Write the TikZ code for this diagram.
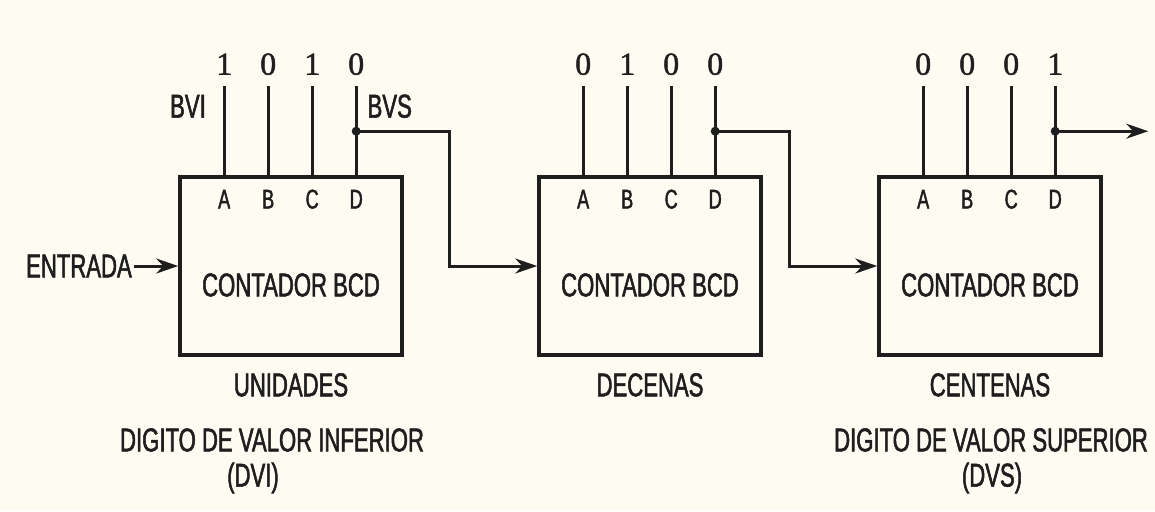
\documentclass[tikz,border=0pt]{standalone}
\usepackage{fontspec}
\setmainfont{Liberation Sans}[FakeStretch=0.67, FakeBold=1.6]
\newfontfamily\digitfont{Liberation Serif}[FakeBold=1.4]
\usepackage{xcolor}
\usetikzlibrary{arrows.meta,positioning,calc}
\definecolor{paper}{RGB}{253,251,242}
\definecolor{ink}{RGB}{30,30,30}

\begin{document}
\begin{tikzpicture}[x=0.5pt, y=-0.5pt,
  cnt/.style={draw=ink, line width=1.8pt, minimum width=111pt, minimum height=89pt, inner sep=0pt},
  lbl/.style={text=ink, font=\fontsize{16.5}{17}\selectfont, inner sep=1pt},
  pinlbl/.style={text=ink, font=\fontsize{13.5}{14}\selectfont, inner sep=1pt},
  bit/.style={text=ink, font=\digitfont\fontsize{16}{17}\selectfont, inner sep=1pt},
  wire/.style={draw=ink, line width=1.5pt},
  arr/.style={wire, -{Stealth[length=11pt,width=7.5pt]}},
  dot/.style={circle, fill=ink, inner sep=0pt, minimum size=4.5pt}
]
  \fill[paper] (0,0) rectangle (1155,511);
  \useasboundingbox (0,0) rectangle (1155,511);

  % three BCD counters with their A..D outputs
  \foreach \n/\x/\ba/\bb/\bc/\bd/\lab in {u/291/1/0/1/0/UNIDADES, d/650/0/1/0/0/DECENAS, c/990/0/0/0/1/CENTENAS} {
    \node[cnt] (\n) at (\x,266) {};
    \node[lbl] (\n-txt) at ($(\n.center)+(0,19)$) {CONTADOR BCD};
    \node[lbl, below=7pt of \n] (\n-name) {\lab};
    \foreach \p/\b [count=\i] in {A/\ba, B/\bb, C/\bc, D/\bd} {
      \coordinate (\n-\p) at ($(\n.north west)+(2+44*\i,0)$);
      \coordinate (\n-\p-top) at ($(\n-\p)+(0,-89)$);
      \draw[wire] (\n-\p) -- (\n-\p-top);
      \node[pinlbl] (\n-\p-in) at ($(\n-\p)+(0,24)$) {\p};
      \node[bit] (\n-\p-bit) at ($(\n-\p)+(0,-111)$) {\b};
    }
    \node[dot] (\n-dot) at ($(\n-D)+(0,-44)$) {};
  }

  % carry chain
  \draw[arr] (u-dot.center) -- ++(93,0) |- (d.west);
  \draw[arr] (d-dot.center) -- ++(74,0) |- (c.west);
  \coordinate (out) at ($(c-dot)+(93,0)$);
  \draw[arr] (c-dot.center) -- (out);

  % input
  \node[lbl, left=22pt of u.west] (in) {ENTRADA};
  \draw[arr] (in.east) -- (u.west);

  \node[lbl, anchor=east] (bvi) at ($(u-A)+(-16,-69)$) {BVI};
  \node[lbl, anchor=west] (bvs) at ($(u-D)+(9,-69)$) {BVS};

  % digit captions
  \node[lbl] (dvi) at (272,440) {DIGITO DE VALOR INFERIOR};
  \node[lbl] (dvi-s) at (253,478) {(DVI)};
  \node[lbl] (dvs) at (991,440) {DIGITO DE VALOR SUPERIOR};
  \node[lbl] (dvs-s) at (992,478) {(DVS)};
\end{tikzpicture}
\end{document}
